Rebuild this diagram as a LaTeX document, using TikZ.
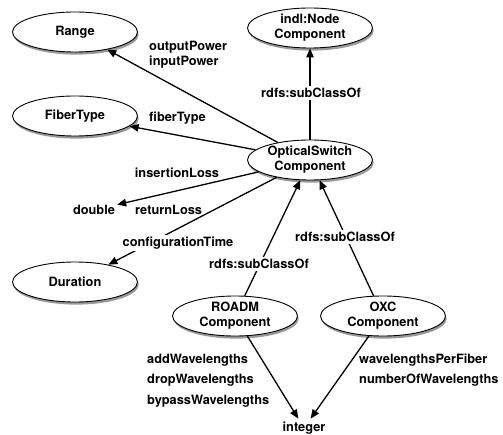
\documentclass[tikz,border=0pt]{standalone}
\usepackage{fontspec}
\setmainfont{TeX Gyre Heros}
\usetikzlibrary{shapes.geometric,arrows.meta,shadows}
\begin{document}
\begin{tikzpicture}[x=1bp,y=-1bp,
  cls/.style={ellipse,draw,line width=0.9bp,fill=white,minimum width=125bp,minimum height=40bp,inner sep=0pt,align=center,
    font=\bfseries\fontsize{12.8bp}{15bp}\selectfont,
    drop shadow={shadow xshift=1.2bp,shadow yshift=-2.6bp,fill=black!80}},
  lbl/.style={font=\bfseries\fontsize{12.8bp}{15bp}\selectfont,inner sep=1bp},
  lbll/.style={font=\bfseries\fontsize{12.8bp}{20.5bp}\selectfont,inner sep=0bp,align=left,anchor=west},
  cut/.style={lbl,fill=white,inner sep=2bp},
  rel/.style={draw,line width=1.3bp,-{Triangle[length=9bp,width=7.5bp]}}
]
\useasboundingbox (0,0) rectangle (503,435);

\node[cls] (range) at (75,32) {Range};
\node[cls] (fiber) at (75,116) {FiberType};
\node[cls] (indl) at (310,28) {indl:Node\\Component};
\node[cls] (osc) at (310,160) {OpticalSwitch\\Component};
\node[cls] (dur) at (75,282) {Duration};
\node[cls] (roadm) at (235,316) {ROADM\\Component};
\node[cls] (oxc) at (383,316) {OXC\\Component};
\node[lbl,inner sep=3bp] (int) at (304,428) {integer};
\node[lbl,inner sep=2bp] (dbl) at (94,210) {double};

\draw[rel] (osc) -- (range);
\draw[rel] (osc) -- (fiber);
\draw[rel] (osc) -- (dbl);
\draw[rel] (osc) -- (dur);
\draw[rel] (osc) -- (indl);
\draw[rel] (roadm) -- (osc);
\draw[rel] (oxc) -- (osc);
\draw[rel] (roadm) -- (int);
\draw[rel] (oxc) -- (int);

\node[lbll,font=\bfseries\fontsize{12.8bp}{15bp}\selectfont] (lpow) at (149,55) {outputPower\\inputPower};
\node[lbll] (lfib) at (149,118) {fiberType};
\node[lbl] (lins) at (177,173) {insertionLoss};
\node[lbll] (lret) at (135,210) {returnLoss};
\node[cut] (lcfg) at (178,243) {configurationTime};
\node[cut] (lsub1) at (311,93) {rdfs:subClassOf};
\node[cut] (lsub2) at (259,264) {rdfs:subClassOf};
\node[cut] (lsub3) at (345,237) {rdfs:subClassOf};
\node[lbll] (lroadm) at (147,380.5) {addWavelengths\\dropWavelengths\\bypassWavelengths};
\node[lbll] (loxc) at (359,370) {wavelengthsPerFiber\\numberOfWavelengths};
\end{tikzpicture}
\end{document}
